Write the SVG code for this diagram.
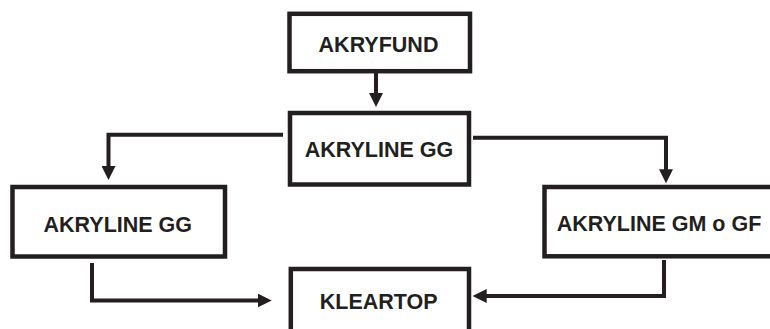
<svg xmlns="http://www.w3.org/2000/svg" width="770" height="329" viewBox="0 0 770 329">
<style>
  .box { fill: #ffffff; stroke: #231f20; stroke-width: 4.5; }
  .lbl { font-family: "Liberation Sans", Arial, sans-serif; font-weight: bold; font-size: 21.5px; fill: #231f20; text-anchor: middle; }
  .conn { fill: none; stroke: #231f20; stroke-width: 4; stroke-linejoin: miter; marker-end: url(#arrow); }
</style>
<defs>
  <marker id="arrow" markerUnits="userSpaceOnUse" markerWidth="14" markerHeight="14" refX="4" refY="7" orient="auto">
    <path d="M0,0 L14,7 L0,14 Z" fill="#231f20"/>
  </marker>
</defs>
<rect width="770" height="329" fill="#ffffff"/>
<g id="connectors">
  <path class="conn" d="M376,73 V97"/>
  <path class="conn" d="M283,134.7 H108.5 V170"/>
  <path class="conn" d="M473,137.8 H666 V173.3"/>
  <path class="conn" d="M92,263 V300.5 H261.7"/>
  <path class="conn" d="M664,260 V296 H482.7"/>
</g>
<g id="akryfund">
  <rect class="box" x="289.5" y="13.8" width="180.5" height="57.4"/>
  <text class="lbl" x="378.5" y="51.7">AKRYFUND</text>
</g>
<g id="akryline-gg-center">
  <rect class="box" x="290" y="113" width="179" height="71.5"/>
  <text class="lbl" x="379" y="156.7">AKRYLINE GG</text>
</g>
<g id="akryline-gg-left">
  <rect class="box" x="12.5" y="187" width="212.5" height="69.5"/>
  <text class="lbl" x="117.8" y="232.3">AKRYLINE GG</text>
</g>
<g id="akryline-gm-gf">
  <rect class="box" x="544.5" y="187" width="232" height="69.3"/>
  <text class="lbl" x="659" y="230.7">AKRYLINE GM o GF</text>
</g>
<g id="kleartop">
  <rect class="box" x="290.8" y="269" width="178.2" height="100"/>
  <text class="lbl" x="378.7" y="309.3">KLEARTOP</text>
</g>
</svg>
